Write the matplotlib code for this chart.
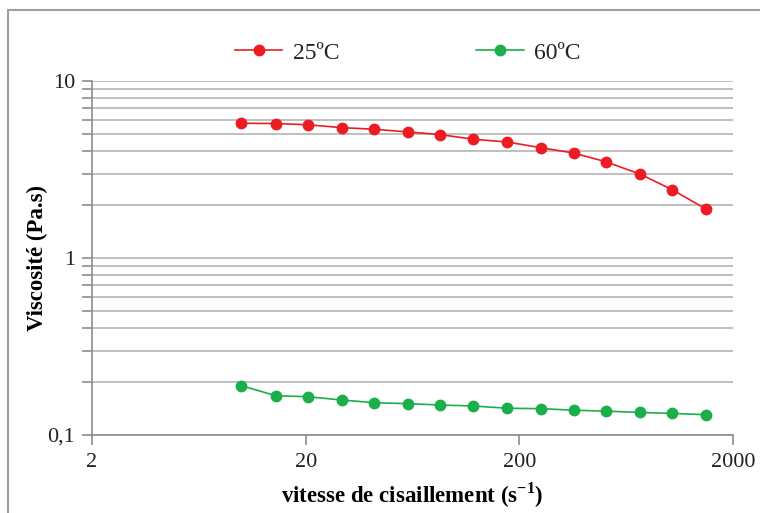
import matplotlib.pyplot as plt
from matplotlib.ticker import LogLocator, FixedLocator, NullFormatter
from matplotlib.lines import Line2D

plt.rcParams["font.family"] = ["Liberation Serif", "DejaVu Serif"]
plt.rcParams["mathtext.fontset"] = "custom"
plt.rcParams["mathtext.rm"] = "Liberation Serif"
plt.rcParams["mathtext.bf"] = "Liberation Serif:bold"

# shear rate (1/s) and viscosity (Pa.s)
shear_rate = [10, 14.5, 20.4, 29.6, 41.8, 60.4, 85.4, 121, 176, 252, 359, 507, 734, 1040, 1496]
visc_25 = [5.77, 5.75, 5.66, 5.45, 5.34, 5.15, 4.98, 4.69, 4.52, 4.20, 3.92, 3.50, 2.98, 2.43, 1.89]
visc_60 = [0.190, 0.1667, 0.1646, 0.1576, 0.1522, 0.1503, 0.1477, 0.1459, 0.1416, 0.1409,
           0.1381, 0.1364, 0.1341, 0.1324, 0.1302]

x_ticks = [2, 20, 200, 2000]
x_tick_labels = ["2", "20", "200", "2000"]
y_ticks = [0.1, 1, 10]
y_tick_labels = ["0,1", "1", "10"]

red = "#ed1c24"
green = "#1aaf4b"
axis_grey = "#8c8c8c"

fig = plt.figure(figsize=(7.6, 5.13), dpi=100)
ax = fig.add_axes([92 / 760, 1 - 435 / 513, (733 - 92) / 760, (435 - 81) / 513])

ax.plot(shear_rate, visc_25, color=red, lw=1.2, marker="o", ms=7.5, mec=red, mfc=red, zorder=3)
ax.plot(shear_rate, visc_60, color=green, lw=1.2, marker="o", ms=7.5, mec=green, mfc=green, zorder=3)

ax.set_xscale("log")
ax.set_yscale("log")
ax.set_xlim(2, 2000)
ax.set_ylim(0.1, 10)

ax.xaxis.set_major_locator(FixedLocator(x_ticks))
ax.set_xticklabels(x_tick_labels)
ax.xaxis.set_minor_locator(FixedLocator([]))
ax.yaxis.set_major_locator(FixedLocator(y_ticks))
ax.set_yticklabels(y_tick_labels)
ax.yaxis.set_minor_locator(LogLocator(base=10, subs=range(2, 10)))
ax.yaxis.set_minor_formatter(NullFormatter())

ax.grid(True, which="both", axis="y", color="#b4b4b4", lw=1.2)
ax.set_axisbelow(True)

for side in ["top", "right"]:
    ax.spines[side].set_visible(False)
for side in ["left", "bottom"]:
    ax.spines[side].set_color(axis_grey)
    ax.spines[side].set_linewidth(1.2)

ax.tick_params(axis="both", which="both", direction="out", color=axis_grey, width=1.2,
               labelcolor="#222222")
ax.tick_params(axis="y", which="both", length=7, labelsize=16, pad=5)
ax.tick_params(axis="x", which="major", length=7, labelsize=16, pad=6)

ax.set_xlabel("vitesse de cisaillement (s$^{\\mathbf{-1}}$)", fontsize=16.5, fontweight="bold",
              labelpad=6)
ax.set_ylabel("Viscosité (Pa.s)", fontsize=16.5, fontweight="bold", labelpad=0)

handles = [
    Line2D([], [], color=red, lw=1.2, marker="o", ms=7.5),
    Line2D([], [], color=green, lw=1.2, marker="o", ms=7.5),
]
fig.legend(handles, ["25ºC", "60ºC"], loc="center", bbox_to_anchor=(408 / 760, 1 - 53 / 513),
           ncol=2, frameon=False, fontsize=17, handlelength=2.0, columnspacing=5.8,
           handletextpad=0.45, labelcolor="#222222")

# outer chart frame
fig.add_artist(Line2D([8 / 760, 8 / 760], [0, 1 - 10 / 513], color="#a0a0a0", lw=1.5,
                      transform=fig.transFigure))
fig.add_artist(Line2D([8 / 760, 1], [1 - 10 / 513, 1 - 10 / 513], color="#a0a0a0", lw=1.5,
                      transform=fig.transFigure))

fig.savefig("out.png", dpi=100)
